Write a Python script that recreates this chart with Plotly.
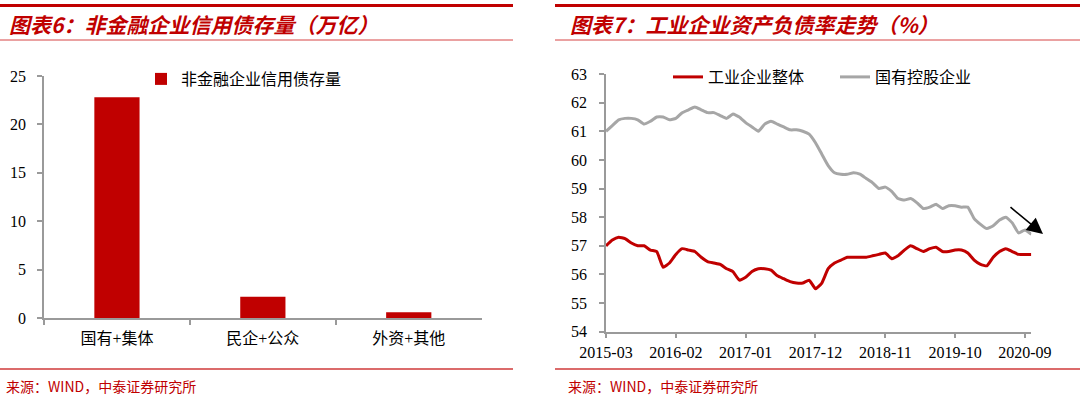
import plotly.graph_objects as go
import pandas as pd

W, H = 1080, 403

# ---------------- data ----------------
bar_categories = ["国有+集体", "民企+公众", "外资+其他"]
bar_values = [22.8, 2.2, 0.6]
bar_name = "非金融企业信用债存量"

months = list(pd.date_range("2015-03-01", "2020-10-01", freq="MS").strftime("%Y-%m"))
industrial_total = [57.0, 57.2, 57.3, 57.25, 57.1, 57.0, 57.0, 56.85, 56.8, 56.25,
                    56.4, 56.7, 56.9, 56.85, 56.8, 56.6, 56.45, 56.4, 56.35, 56.2,
                    56.1, 55.8, 55.9, 56.1, 56.2, 56.2, 56.15, 55.95, 55.85, 55.75,
                    55.7, 55.7, 55.8, 55.5, 55.7, 56.2, 56.4, 56.5, 56.6, 56.6,
                    56.6, 56.6, 56.65, 56.7, 56.75, 56.55, 56.65, 56.85, 57.0, 56.9,
                    56.8, 56.9, 56.95, 56.8, 56.8, 56.85, 56.85, 56.75, 56.5, 56.35,
                    56.3, 56.6, 56.8, 56.9, 56.8, 56.7, 56.7, 56.7]
state_owned = [61.0, 61.2, 61.4, 61.45, 61.45, 61.4, 61.25, 61.35, 61.5, 61.5,
               61.4, 61.45, 61.65, 61.75, 61.85, 61.75, 61.65, 61.65, 61.55, 61.45,
               61.6, 61.5, 61.3, 61.15, 61.0, 61.25, 61.35, 61.25, 61.15, 61.05,
               61.05, 61.0, 60.9, 60.6, 60.2, 59.8, 59.55, 59.5, 59.5, 59.55,
               59.5, 59.35, 59.2, 59.0, 59.05, 58.9, 58.65, 58.6, 58.65, 58.5,
               58.3, 58.35, 58.45, 58.3, 58.4, 58.4, 58.35, 58.35, 57.95, 57.75,
               57.6, 57.7, 57.9, 58.0, 57.8, 57.45, 57.55, 57.4]
line_names = ["工业企业整体", "国有控股企业"]
x_tick_labels = ["2015-03", "2016-02", "2017-01", "2017-12", "2018-11", "2019-10", "2020-09"]

title_left = "图表6：非金融企业信用债存量（万亿）"
title_right = "图表7：工业企业资产负债率走势（%）"
source_text = "来源：WIND，中泰证券研究所"

# ---------------- style ----------------
RED = "#C00000"
GRAY = "#A6A6A6"
AXIS = "#9A9A9A"
SERIF = "Liberation Serif, Noto Sans CJK SC, serif"
CJK = "Noto Sans CJK SC, sans-serif"


def px(x):
    return x / W


def py(y):
    return (H - y) / H


fig = go.Figure()

fig.add_trace(go.Bar(x=bar_categories, y=bar_values, name=bar_name,
                     marker=dict(color=RED, line=dict(width=0)), width=0.31,
                     xaxis="x", yaxis="y", legend="legend"))

fig.add_trace(go.Scatter(x=months, y=industrial_total, name=line_names[0], mode="lines",
                         line=dict(color=RED, width=3, shape="spline", smoothing=0.4),
                         xaxis="x2", yaxis="y2", legend="legend2"))
fig.add_trace(go.Scatter(x=months, y=state_owned, name=line_names[1], mode="lines",
                         line=dict(color=GRAY, width=3, shape="spline", smoothing=0.4),
                         xaxis="x2", yaxis="y2", legend="legend2"))

axis_common = dict(showline=True, linecolor=AXIS, linewidth=1.5, showgrid=False,
                   zeroline=False, ticks="outside", tickcolor=AXIS, tickwidth=1.5,
                   ticklen=5, automargin=False,
                   tickfont=dict(family=SERIF, size=16, color="#000"))

fig.update_layout(
    width=W, height=H,
    margin=dict(l=0, r=0, t=0, b=0, autoexpand=False),
    paper_bgcolor="white", plot_bgcolor="white",
    showlegend=True,
    xaxis=dict(domain=[px(44), px(481.7)], anchor="y", type="category",
               range=[-0.5, 2.5], tickson="boundaries", ticklabelstandoff=5, **axis_common),
    yaxis=dict(domain=[py(318), py(76)], anchor="x", range=[0, 25], dtick=5,
               ticklabelstandoff=8, **axis_common),
    xaxis2=dict(domain=[px(606), px(1031.3)], anchor="y2", type="category",
                range=[0, 67], tickmode="array", tickvals=x_tick_labels,
                ticktext=x_tick_labels, **axis_common),
    yaxis2=dict(domain=[py(331.7), py(74)], anchor="x2", range=[54, 63], dtick=1,
                ticklabelstandoff=9, **axis_common),
    legend=dict(orientation="h", x=px(141), y=py(79), xanchor="left", yanchor="middle",
                bgcolor="rgba(0,0,0,0)", font=dict(family=CJK, size=16, color="#000")),
    legend2=dict(orientation="h", x=px(668), y=py(77), xanchor="left", yanchor="middle",
                 bgcolor="rgba(0,0,0,0)", entrywidth=122, entrywidthmode="pixels",
                 font=dict(family=CJK, size=16, color="#000")),
)

# titles and sources
for xl, txt in [(7, title_left), (568, title_right)]:
    fig.add_annotation(xref="paper", yref="paper", x=px(xl), y=py(24), xanchor="left",
                       yanchor="middle", showarrow=False, text=txt,
                       font=dict(family=CJK, size=21, color=RED, weight="bold", style="italic"))
for xl in (4, 566):
    fig.add_annotation(xref="paper", yref="paper", x=px(xl), y=py(386), xanchor="left",
                       yanchor="middle", showarrow=False, text=source_text,
                       font=dict(family=CJK, size=14, color=RED))

# decorative header / footer rules
for x0, x1 in [(0, 513), (555, 1080)]:
    fig.add_shape(type="line", xref="paper", yref="paper", x0=px(x0), x1=px(x1),
                  y0=py(5.5), y1=py(5.5), line=dict(color=RED, width=3))
    fig.add_shape(type="line", xref="paper", yref="paper", x0=px(x0), x1=px(x1),
                  y0=py(40), y1=py(40), line=dict(color="#D64545", width=1))
    fig.add_shape(type="line", xref="paper", yref="paper", x0=px(x0), x1=px(x1),
                  y0=py(369), y1=py(369), line=dict(color="#DB6B6B", width=2))

# trend arrow
fig.add_annotation(xref="paper", yref="paper", x=px(1043), y=py(234),
                   axref="pixel", ayref="pixel", ax=-34, ay=-28, text="",
                   showarrow=True, arrowhead=2, arrowsize=2, arrowwidth=1.6,
                   arrowcolor="#000")

fig.write_html("out.html", config={"displayModeBar": False},
               post_script="document.body.style.margin='0';document.body.style.overflow='hidden';")
